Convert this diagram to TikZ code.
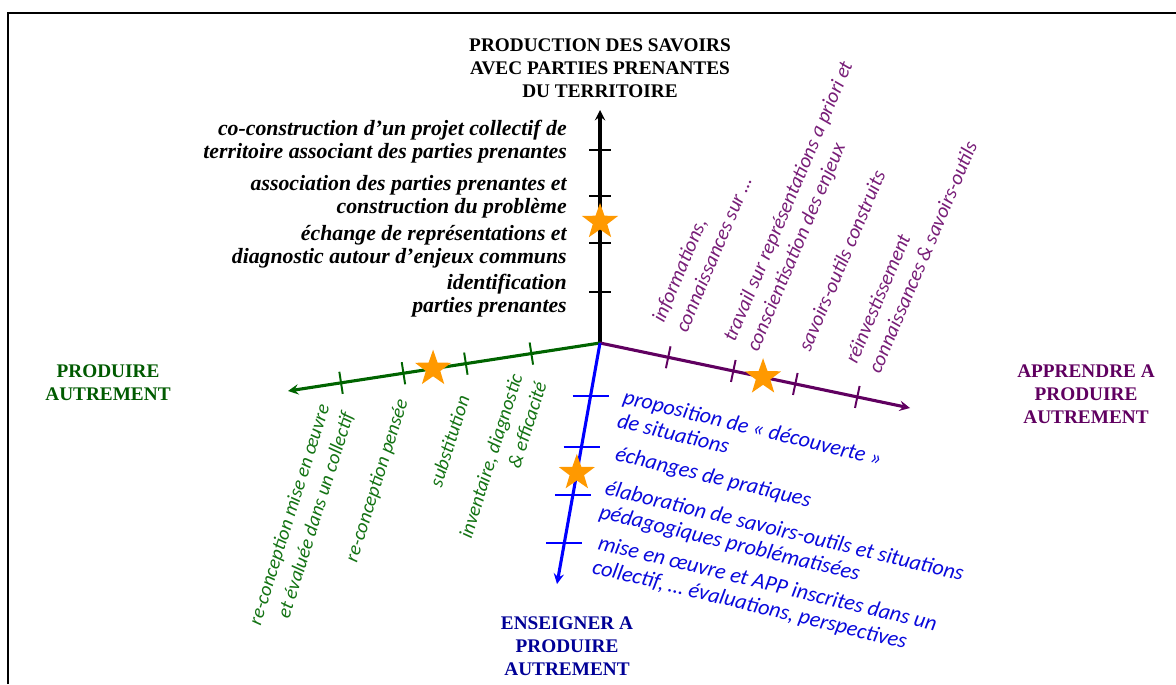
\documentclass[tikz,border=0pt]{standalone}
\usepackage{fontspec}
\setmainfont{Liberation Serif}
\newfontfamily\carlito{Carlito}
\usetikzlibrary{calc, shapes.geometric}

\definecolor{vertaxe}{RGB}{0,100,0}
\definecolor{verttexte}{RGB}{20,115,20}
\definecolor{verttitre}{RGB}{0,90,0}
\definecolor{violetaxe}{RGB}{96,0,96}
\definecolor{violettexte}{RGB}{120,30,120}
\definecolor{violettitre}{RGB}{96,0,96}
\definecolor{bleuaxe}{RGB}{0,0,255}
\definecolor{bleutexte}{RGB}{10,10,220}
\definecolor{bleutitre}{RGB}{0,0,150}
\definecolor{orangeetoile}{RGB}{255,153,0}

\begin{document}
\begin{tikzpicture}[x=0.025cm, y=-0.025cm,
    axe/.style={line width=2.2pt, -stealth},
    graduation/.style={line width=1.4pt},
    etoile/.style={star, star points=5, star point ratio=2.5,
        fill=orangeetoile, minimum size=0.95cm, inner sep=0pt},
    titre/.style={font=\bfseries\fontsize{13.7}{16.3}\selectfont,
        align=center, inner sep=0pt, anchor=base},
    niveau/.style={font=\bfseries\itshape\fontsize{15.5}{16.3}\selectfont,
        align=right, inner sep=0pt, anchor=base east},
    bleu/.style={text=bleutexte, rotate=-13.6, anchor=base west, inner sep=0pt,
        align=left, font=\carlito\itshape\fontsize{15.7}{17.3}\selectfont},
    violet/.style={text=violettexte, rotate=67, anchor=base west, inner sep=0pt,
        align=left, font=\carlito\itshape\fontsize{14.5}{18}\selectfont},
    vert/.style={text=verttexte, rotate=72.5, anchor=base east, inner sep=0pt,
        align=right, font=\carlito\itshape\fontsize{14}{18}\selectfont}]

    \useasboundingbox (0,0) rectangle (1176,684);

    % Cadre
    \draw[line width=1.4pt] (8,684) |- (1176,13);

    % Centre et bouts des axes
    \coordinate (O) at (600,343);
    \coordinate (haut) at (600,110);
    \coordinate (gauche) at (288,391);
    \coordinate (droite) at (910,408);
    \coordinate (bas) at (557,584);

    % Axes
    \draw[axe] (O) -- (haut);
    \draw[axe, vertaxe] (O) -- (gauche);
    \draw[axe, violetaxe] (O) -- (droite);
    \draw[axe, bleuaxe] (O) -- (bas);

    % Graduations
    \foreach \t in {0.22,0.43,0.63,0.83} {
        \draw[graduation] ($(O)!\t!(haut)$) +(-11,0) -- +(11,0);
        \draw[graduation, bleuaxe] ($(O)!\t!(bas)$) +(-18,0) -- +(18,0);
        \draw[graduation, vertaxe]
            ($(O)!\t!(gauche)!0.28cm!90:(gauche)$) --
            ($(O)!\t!(gauche)!0.28cm!-90:(gauche)$);
        \draw[graduation, violetaxe]
            ($(O)!\t!(droite)!0.28cm!90:(droite)$) --
            ($(O)!\t!(droite)!0.28cm!-90:(droite)$);
    }

    % Etoiles
    \node[etoile] (eHaut) at ($(O)!0.52!(haut)$) {};
    \node[etoile] (eGauche) at ($(O)!0.535!(gauche)$) {};
    \node[etoile] (eDroite) at ($(O)!0.526!(droite)$) {};
    \node[etoile] (eBas) at ($(O)!0.539!(bas)$) {};

    % Titres des axes (ancre sur la derniere ligne)
    \node[titre] (tHaut) at (600,97)
        {PRODUCTION DES SAVOIRS\\AVEC PARTIES PRENANTES\\DU TERRITOIRE};
    \node[titre, text=verttitre] (tGauche) at (108,400)
        {PRODUIRE\\AUTREMENT};
    \node[titre, text=violettitre] (tDroite) at (1086,423)
        {APPRENDRE A\\PRODUIRE\\AUTREMENT};
    \node[titre, text=bleutitre] (tBas) at (567,675)
        {ENSEIGNER A\\PRODUIRE\\AUTREMENT};

    % Niveaux de l'axe vertical
    \node[niveau] (n4) at (567,158)
        {co-construction d'un projet collectif de\\territoire associant des parties prenantes};
    \node[niveau] (n3) at (567,213)
        {association des parties prenantes et\\construction du problème};
    \node[niveau] (n2) at (567,263)
        {échange de représentations et\\diagnostic autour d'enjeux communs};
    \node[niveau] (n1) at (567,312)
        {identification\\parties prenantes};

    % Apprendre
    \node[violet] (v1) at (687,334) {informations,\\connaissances sur …};
    \node[violet] (v2) at (758,353)
        {travail sur représentations a priori et\\conscientisation des enjeux};
    \node[violet] (v3) at (810,353) {savoirs-outils construits};
    \node[violet] (v4) at (880,375)
        {réinvestissement\\connaissances \& savoirs-outils};

    % Produire
    \node[vert] (g1) at (354,414)
        {re-conception mise en œuvre\\et évaluée dans un collectif};
    \node[vert] (g2) at (408,401) {re-conception pensée};
    \node[vert] (g3) at (470,398) {substitution};
    \node[vert] (g4) at (547,384) {inventaire, diagnostic\\\& efficacité};

    % Enseigner
    \node[bleu] (b1) at (616,427) {proposition de « découverte »\\de situations};
    \node[bleu] (b2) at (614,460) {échanges de pratiques};
    \node[bleu] (b3) at (598,518)
        {élaboration de savoirs-outils et situations\\pédagogiques problématisées};
    \node[bleu] (b4) at (591,573)
        {mise en œuvre et APP inscrites dans un\\collectif, … évaluations, perspectives};
\end{tikzpicture}
\end{document}
